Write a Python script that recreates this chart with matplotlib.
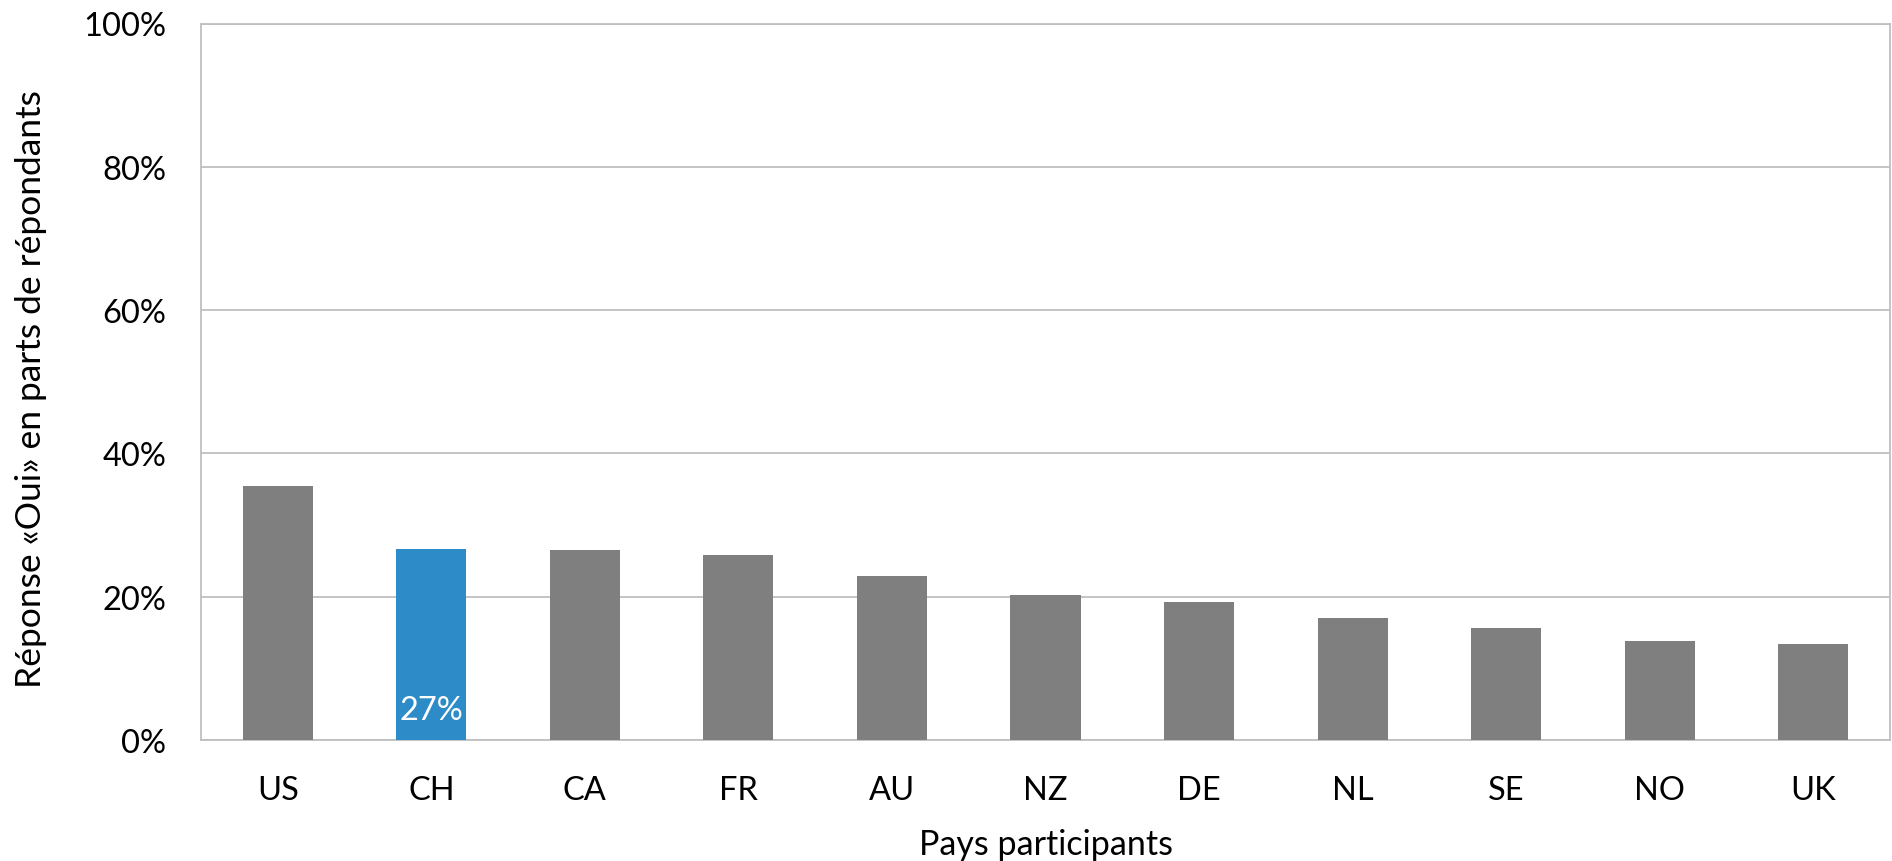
import matplotlib
matplotlib.use("Agg")
import matplotlib.pyplot as plt
from matplotlib.ticker import FuncFormatter

countries = ["US", "CH", "CA", "FR", "AU", "NZ", "DE", "NL", "SE", "NO", "UK"]
values = [35.5, 26.7, 26.5, 25.8, 22.9, 20.3, 19.2, 17.0, 15.6, 13.8, 13.4]
highlight = "CH"
highlight_label = "27%"
yticks = [0, 20, 40, 60, 80, 100]

plt.rcParams['font.family'] = ['Lato', 'DejaVu Sans']

W, H = 1892, 862
fig = plt.figure(figsize=(W / 100, H / 100), dpi=100)
ax = fig.add_axes([201 / W, 1 - 741 / H, (1890 - 201) / W, (741 - 24.5) / H])

gray = "#7F7F7F"
blue = "#2D8BC8"
colors = [blue if c == highlight else gray for c in countries]
x = list(range(len(countries)))
ax.bar(x, values, width=0.456, color=colors, zorder=3)

ax.set_xlim(-0.5, len(countries) - 0.5)
ax.set_ylim(0, 100)
ax.set_yticks(yticks)
ax.yaxis.set_major_formatter(FuncFormatter(lambda v, p: f"{v:.0f}%"))
ax.set_xticks(x)
ax.set_xticklabels(countries)
ax.tick_params(axis='both', length=0, labelsize=23.5, colors="#000000")
ax.tick_params(axis='y', pad=25)
ax.tick_params(axis='x', pad=25)
ax.grid(axis='y', color="#BFBFBF", linewidth=1.3, zorder=0)
for s in ax.spines.values():
    s.set_color("#BFBFBF")
    s.set_linewidth(1.3)

hi = countries.index(highlight)
ax.annotate(highlight_label, xy=(hi, 0), xytext=(0, 15), textcoords='offset points',
            ha='center', va='baseline', color='white', fontsize=23.5, zorder=4)

fig.text(201 / W + (1890 - 201) / W / 2, 1 - 845 / H, "Pays participants",
         ha='center', va='center', fontsize=24.5)
fig.text(31 / W, 1 - 389 / H, "Réponse «Oui» en parts de répondants",
         ha='center', va='center', rotation=90, fontsize=25.5)

fig.savefig("out.png", dpi=100, facecolor="white")
